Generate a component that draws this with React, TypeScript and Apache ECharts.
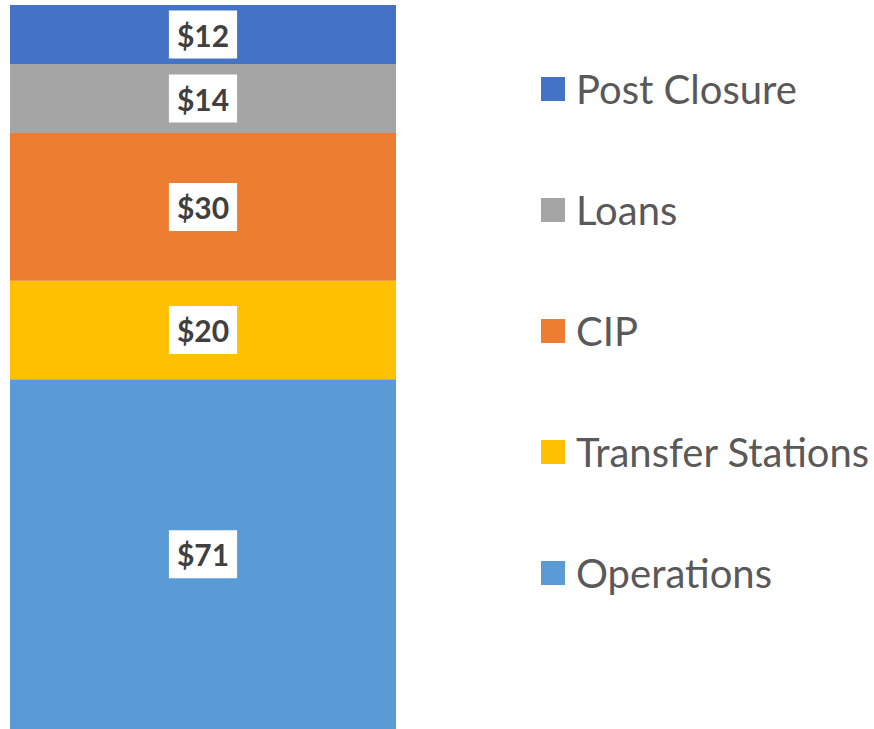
import React, { useEffect, useRef } from "react";
import * as echarts from "echarts";

const categories = ["Total"];
const seriesNames = ["Operations", "Transfer Stations", "CIP", "Loans", "Post Closure"];
const seriesValues = [71, 20, 30, 14, 12];
const seriesColors = ["#5B9BD5", "#FFC000", "#ED7D31", "#A5A5A5", "#4472C4"];
const legendOrder = ["Post Closure", "Loans", "CIP", "Transfer Stations", "Operations"];

export default function App() {
  const ref = useRef<HTMLDivElement>(null);
  useEffect(() => {
    if (!ref.current) return;
    const chart = echarts.init(ref.current, null, { renderer: "svg" });
    const total = seriesValues.reduce((a, b) => a + b, 0);
    chart.setOption({
      animation: false,
      grid: { left: 10, right: 478, top: 5, bottom: 0, containLabel: false },
      xAxis: { type: "category", data: categories, show: false },
      yAxis: { type: "value", min: 0, max: total, show: false },
      legend: {
        orient: "vertical",
        left: 541,
        top: 69,
        padding: 0,
        itemWidth: 24,
        itemHeight: 24,
        itemGap: 81,
        icon: "rect",
        data: legendOrder,
        textStyle: {
          fontFamily: "Lato",
          fontSize: 40,
          color: "#595959",
          lineHeight: 40,
          padding: [0, 0, 0, 6],
        },
      },
      series: seriesNames.map((name, i) => ({
        name,
        type: "bar",
        stack: "total",
        barWidth: "100%",
        barCategoryGap: 0,
        data: [seriesValues[i]],
        itemStyle: { color: seriesColors[i] },
        label: {
          show: true,
          position: "inside",
          formatter: "${c}",
          backgroundColor: "#FFFFFF",
          padding: [8, 8, 8, 8],
          fontFamily: "Lato",
          fontWeight: "bold",
          fontSize: 30,
          lineHeight: 32,
          color: "#404040",
        },
      })),
    });
    return () => chart.dispose();
  }, []);
  return (
    <div
      ref={ref}
      style={{ position: "fixed", left: 0, top: 0, width: 874, height: 729, background: "#fff" }}
    />
  );
}
